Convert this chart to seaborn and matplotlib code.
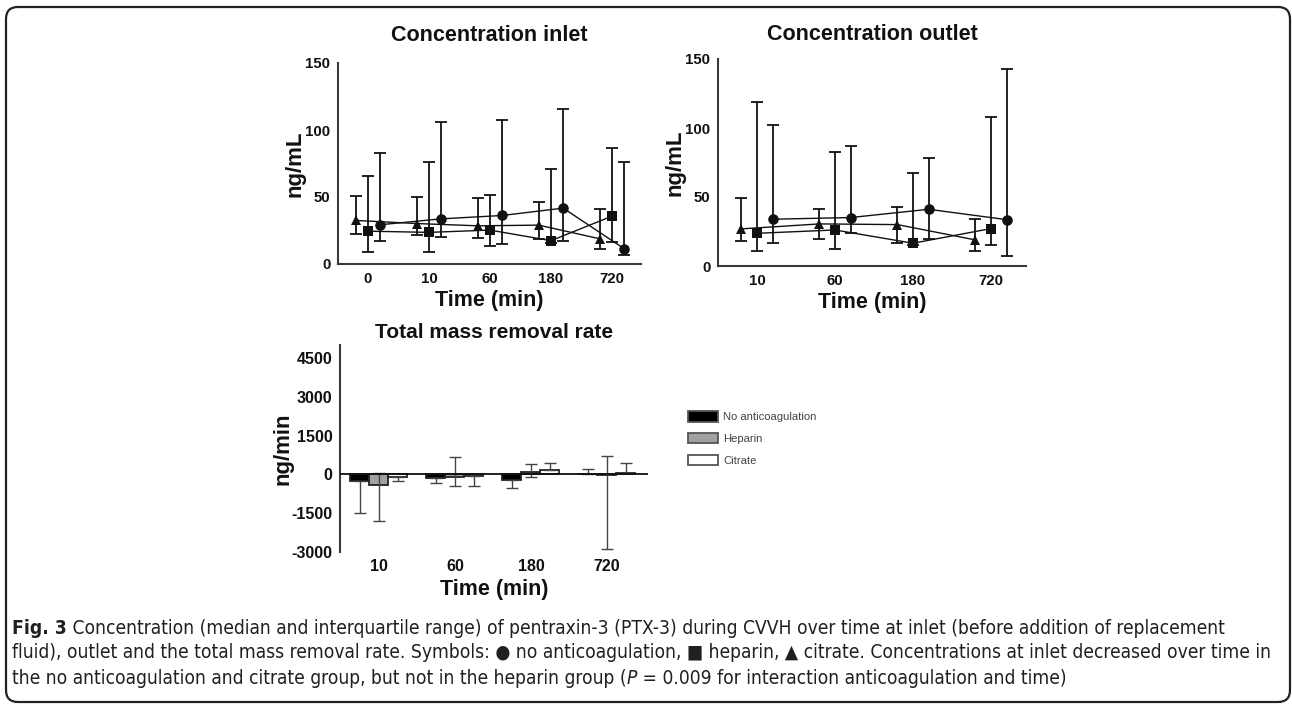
import matplotlib
matplotlib.use("Agg")
import matplotlib.pyplot as plt
import matplotlib.patches as mpatches
import matplotlib.transforms as mtransforms
import numpy as np
import pandas as pd
import seaborn as sns

# ---------------- data ----------------
groups = ["No anticoagulation", "Heparin", "Citrate"]

times_inlet = ["0", "10", "60", "180", "720"]
inlet_none_med = [29.3, 33.7, 36.2, 41.7, 11.4]
inlet_none_q1 = [17.1, 20.3, 14.9, 17.4, 6.7]
inlet_none_q3 = [82.8, 105.9, 107.4, 115.8, 76.1]
inlet_hep_med = [24.5, 23.6, 25.3, 17.4, 35.7]
inlet_hep_q1 = [8.7, 8.7, 13.6, 16.0, 16.6]
inlet_hep_q3 = [65.7, 76.1, 51.3, 71.2, 86.8]
inlet_cit_med = [32.5, 30.2, 28.5, 29.0, 18.8]
inlet_cit_q1 = [22.3, 21.6, 19.1, 18.8, 10.9]
inlet_cit_q3 = [50.8, 50.3, 49.0, 46.6, 40.7]

times_outlet = ["10", "60", "180", "720"]
outlet_none_med = [33.9, 35.1, 41.1, 33.6]
outlet_none_q1 = [16.9, 24.2, 19.6, 7.5]
outlet_none_q3 = [102.3, 87.3, 77.9, 143.0]
outlet_hep_med = [23.7, 26.1, 16.5, 27.1]
outlet_hep_q1 = [11.1, 12.3, 15.0, 15.5]
outlet_hep_q3 = [118.8, 82.3, 67.5, 107.7]
outlet_cit_med = [26.9, 30.5, 30.0, 18.9]
outlet_cit_q1 = [18.4, 19.8, 16.9, 10.9]
outlet_cit_q3 = [49.4, 41.6, 43.1, 34.1]

times_mass = ["10", "60", "180", "720"]
mass_none_med = [-240, -142, -220, 5]
mass_none_q1 = [-1487, -349, -517, 5]
mass_none_q3 = [-240, -142, -220, 194]
mass_hep_med = [-414, -90, 103, -5]
mass_hep_q1 = [-1810, -440, -116, -2870]
mass_hep_q3 = [39, 660, 414, 698]
mass_cit_med = [-90, -78, 168, 52]
mass_cit_q1 = [-272, -440, 168, 52]
mass_cit_q3 = [-90, -78, 427, 427]

caption_lines = [
    [("Fig. 3", "bold", "normal"),
     (" Concentration (median and interquartile range) of pentraxin-3 (PTX-3) during CVVH over time at inlet (before addition of replacement", "normal", "normal")],
    [("fluid), outlet and the total mass removal rate. Symbols: \u25cf no anticoagulation, \u25a0 heparin, \u25b2 citrate. Concentrations at inlet decreased over time in", "normal", "normal")],
    [("the no anticoagulation and citrate group, but not in the heparin group (", "normal", "normal"),
     ("P", "normal", "italic"),
     (" = 0.009 for interaction anticoagulation and time)", "normal", "normal")],
]

# ---------------- style ----------------
sns.set_theme(style="white")
plt.rcParams["font.family"] = ["Liberation Sans", "DejaVu Sans"]
plt.rcParams["axes.unicode_minus"] = False
SPINE = "#3a3a3a"
W, H = 1292, 706
fig = plt.figure(figsize=(W / 100, H / 100), dpi=100)


def ax_px(left, right, top, bottom):
    return fig.add_axes([left / W, 1 - bottom / H, (right - left) / W, (bottom - top) / H])


markers = {"No anticoagulation": "o", "Heparin": "s", "Citrate": "^"}
offsets = {"No anticoagulation": 0.2, "Heparin": 0.0, "Citrate": -0.2}


def style_axes(ax, tsize=10.8):
    for s in ["top", "right"]:
        ax.spines[s].set_visible(False)
    for s in ["left", "bottom"]:
        ax.spines[s].set_color(SPINE)
        ax.spines[s].set_linewidth(1.5)
    ax.tick_params(axis="both", direction="out", length=3.5, width=1.3, color=SPINE,
                   labelsize=tsize, pad=2, labelcolor="#111111")
    for lab in ax.get_xticklabels() + ax.get_yticklabels():
        lab.set_fontweight("bold")
    ax.set_facecolor("none")


def line_panel(ax, times, meds, q1s, q3s, title, tpad, xlim):
    rows = []
    for g in groups:
        for i, t in enumerate(times):
            rows.append({"pos": i + offsets[g], "median": meds[g][i],
                         "q1": q1s[g][i], "q3": q3s[g][i], "group": g})
    df = pd.DataFrame(rows)
    for g in groups:
        d = df[df.group == g]
        ax.errorbar(d["pos"], d["median"],
                    yerr=[d["median"] - d["q1"], d["q3"] - d["median"]],
                    fmt="none", ecolor="#111111", elinewidth=1.3, capsize=4.2,
                    capthick=1.3, zorder=2)
    sns.lineplot(data=df, x="pos", y="median", style="group", style_order=groups,
                 markers=markers, dashes=False, color="#111111", linewidth=1.0,
                 markersize=7.6, markeredgewidth=0, estimator=None, sort=False,
                 legend=False, ax=ax, zorder=3)
    ax.set_xlim(*xlim)
    ax.set_ylim(0, 150)
    ax.set_yticks([0, 50, 100, 150])
    ax.set_xticks(range(len(times)))
    ax.set_xticklabels(times)
    ax.set_title(title, fontsize=15.5, fontweight="bold", pad=tpad, color="#111111")
    ax.set_xlabel("Time (min)", fontsize=15.5, fontweight="bold", labelpad=3, color="#111111")
    ax.set_ylabel("ng/mL", fontsize=16, fontweight="bold", labelpad=0, color="#111111")
    style_axes(ax)


ax1 = ax_px(338, 641, 63, 264)
line_panel(ax1, times_inlet,
           {"No anticoagulation": inlet_none_med, "Heparin": inlet_hep_med, "Citrate": inlet_cit_med},
           {"No anticoagulation": inlet_none_q1, "Heparin": inlet_hep_q1, "Citrate": inlet_cit_q1},
           {"No anticoagulation": inlet_none_q3, "Heparin": inlet_hep_q3, "Citrate": inlet_cit_q3},
           "Concentration inlet", 16, (-0.49, 4.475))

ax2 = ax_px(718, 1026, 59, 266)
line_panel(ax2, times_outlet,
           {"No anticoagulation": outlet_none_med, "Heparin": outlet_hep_med, "Citrate": outlet_cit_med},
           {"No anticoagulation": outlet_none_q1, "Heparin": outlet_hep_q1, "Citrate": outlet_cit_q1},
           {"No anticoagulation": outlet_none_q3, "Heparin": outlet_hep_q3, "Citrate": outlet_cit_q3},
           "Concentration outlet", 14, (-0.5, 3.45))

# ---------------- bar panel ----------------
ax3 = ax_px(340, 648, 345, 552)
mrows = []
mmed = {"No anticoagulation": mass_none_med, "Heparin": mass_hep_med, "Citrate": mass_cit_med}
mq1 = {"No anticoagulation": mass_none_q1, "Heparin": mass_hep_q1, "Citrate": mass_cit_q1}
mq3 = {"No anticoagulation": mass_none_q3, "Heparin": mass_hep_q3, "Citrate": mass_cit_q3}
for g in groups:
    for i, t in enumerate(times_mass):
        mrows.append({"time": t, "group": g, "median": mmed[g][i], "q1": mq1[g][i], "q3": mq3[g][i]})
mdf = pd.DataFrame(mrows)
bar_colors = {"No anticoagulation": "#000000", "Heparin": "#a0a0a0", "Citrate": "#ffffff"}
sns.barplot(data=mdf, x="time", y="median", hue="group", hue_order=groups, order=times_mass,
            palette=bar_colors, edgecolor="#222222", linewidth=1.3, width=0.75,
            errorbar=None, ax=ax3, legend=True, zorder=2)
bar_off = {"No anticoagulation": -0.25, "Heparin": 0.0, "Citrate": 0.25}
for g in groups:
    d = mdf[mdf.group == g]
    xs = np.arange(len(times_mass)) + bar_off[g]
    ax3.errorbar(xs, d["median"], yerr=[d["median"] - d["q1"], d["q3"] - d["median"]],
                 fmt="none", ecolor="#444444", elinewidth=1.0, capsize=4.5, capthick=1.0, zorder=3)
ax3.axhline(0, color="#111111", linewidth=1.3, zorder=4)
ax3.set_xlim(-0.51, 3.54)
ax3.set_ylim(-3000, 5000)
ax3.set_yticks([-3000, -1500, 0, 1500, 3000, 4500])
ax3.set_title("Total mass removal rate", fontsize=15, fontweight="bold", pad=5, color="#111111")
ax3.set_xlabel("Time (min)", fontsize=15.5, fontweight="bold", labelpad=3.5, color="#111111")
ax3.set_ylabel("ng/min", fontsize=16, fontweight="bold", labelpad=-1.5, color="#111111")
style_axes(ax3, tsize=11.5)
ax3.spines["bottom"].set_visible(False)
ax3.tick_params(axis="x", length=0, pad=5)

handles, labels = ax3.get_legend_handles_labels()
ax3.legend_.remove()
leg = fig.legend(handles, labels, loc="upper left", bbox_to_anchor=(688 / W, 1 - 411 / H),
                 frameon=False, fontsize=8.1, handlelength=2.7, handleheight=1.08,
                 labelspacing=0.95, handletextpad=0.45, borderpad=0, borderaxespad=0)
for t in leg.get_texts():
    t.set_color("#444444")
for p in leg.get_patches():
    p.set_edgecolor("#555555")

# ---------------- caption ----------------
ident = mtransforms.IdentityTransform()
renderer = fig.canvas.get_renderer()
cap_family = ["DejaVu Sans", "Liberation Sans"]
cap_stretch = "condensed"


def run_width(runs, size):
    w = 0
    for txt, wt, st in runs:
        t = fig.text(0, 0, txt, fontsize=size, fontweight=wt, fontstyle=st,
                     family=cap_family, fontstretch=cap_stretch, transform=ident)
        w += t.get_window_extent(renderer).width
        t.remove()
    return w


base = 10.0
scale = (1232 - 12) / run_width(caption_lines[0], base)
cap_size = base * scale
x0 = 12
for li, runs in enumerate(caption_lines):
    y = H - (628 + 25 * li)
    x = x0
    for txt, wt, st in runs:
        t = fig.text(x, y, txt, fontsize=cap_size, fontweight=wt, fontstyle=st,
                     family=cap_family, fontstretch=cap_stretch, transform=ident,
                     va="center", ha="left", color="#231f20")
        x += t.get_window_extent(renderer).width

# ---------------- border ----------------
border = mpatches.FancyBboxPatch((6, H - 702), 1284, 695,
                                 boxstyle="round,pad=0,rounding_size=12",
                                 transform=ident, fill=False, edgecolor="#222222",
                                 linewidth=1.6)
fig.patches.append(border)

fig.savefig("out.png", dpi=100)
